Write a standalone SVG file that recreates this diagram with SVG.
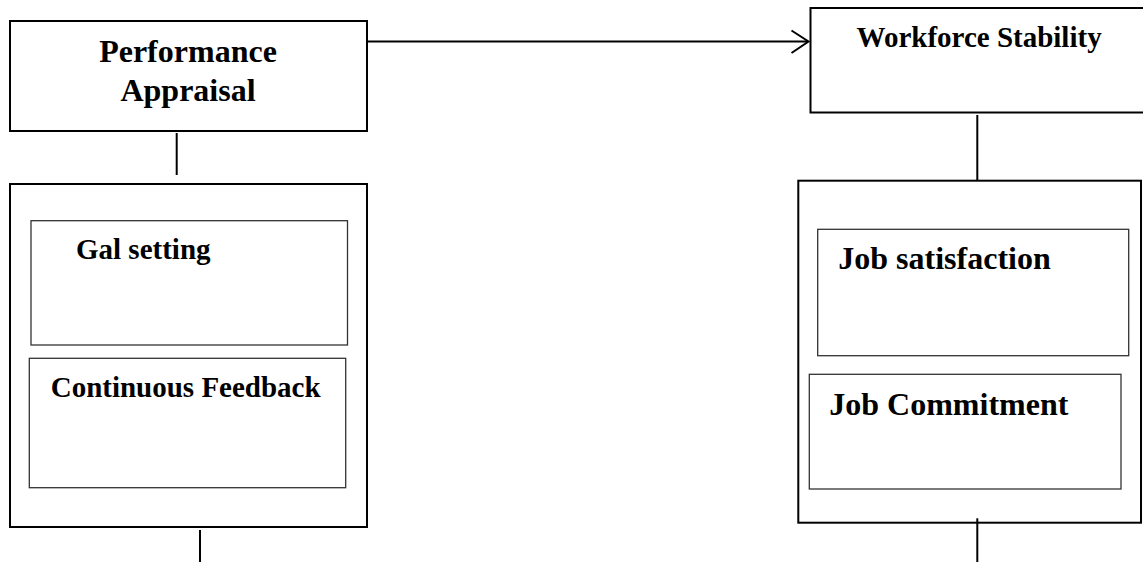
<svg xmlns="http://www.w3.org/2000/svg" width="1143" height="562" viewBox="0 0 1143 562">
<style>
.box{fill:#fff;stroke:#000;stroke-width:2}
.inner{fill:#fff;stroke:#333;stroke-width:1.3}
.line{fill:none;stroke:#000;stroke-width:2}
text{font-family:"Liberation Serif","Times New Roman",serif;font-weight:bold;fill:#000}
.l{font-size:32px}
.s{font-size:29px}
</style>
<rect width="1143" height="562" fill="#fff"/>
<g id="connectors">
<line class="line" x1="367" y1="41.5" x2="808" y2="41.5"/>
<polyline class="line" points="791.5,30.5 808.5,41.5 791.5,53"/>
<line class="line" x1="176.7" y1="133" x2="176.7" y2="175"/>
<line class="line" x1="977.3" y1="115" x2="977.3" y2="187"/>
<line class="line" x1="200" y1="530" x2="200" y2="562"/>
</g>
<g id="performance-appraisal">
<rect class="box" x="10" y="21" width="357" height="110"/>
<text class="l" x="188" y="62" text-anchor="middle">Performance</text>
<text class="l" x="188" y="101" text-anchor="middle">Appraisal</text>
</g>
<g id="workforce-stability">
<rect class="box" x="810.5" y="8" width="340" height="104.5"/>
<text class="s" x="856.5" y="46.5">Workforce Stability</text>
</g>
<g id="pa-dimensions">
<rect class="box" x="10" y="184" width="357" height="343"/>
</g>
<g id="goal-setting">
<rect class="inner" x="31" y="220.7" width="316.5" height="124.3"/>
<text class="s" x="76" y="258.5">Gal setting</text>
</g>
<g id="continuous-feedback">
<rect class="inner" x="29.3" y="358.3" width="316.4" height="129.4"/>
<text class="s" x="50.7" y="396.7">Continuous Feedback</text>
</g>
<g id="ws-dimensions">
<rect class="box" x="798.3" y="180.7" width="342.7" height="342"/>
</g>
<g id="job-satisfaction">
<rect class="inner" x="817.7" y="229.3" width="311" height="126.4"/>
<text class="l" x="838.3" y="269.3">Job satisfaction</text>
</g>
<g id="job-commitment">
<rect class="inner" x="809.3" y="374.3" width="311.7" height="114.7"/>
<text class="l" x="829.3" y="415">Job Commitment</text>
</g>
<g id="connectors-bottom">
<line class="line" x1="977.3" y1="518.3" x2="977.3" y2="562"/>
</g>
</svg>
